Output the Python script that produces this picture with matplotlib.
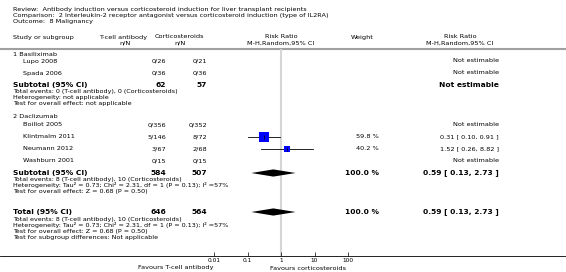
import numpy as np
import matplotlib
matplotlib.use("Agg")
import matplotlib.pyplot as plt
from matplotlib.patches import Polygon

# ---------------------------------------------------------------------------
# Data
# ---------------------------------------------------------------------------
title_lines = [
    "Review:  Antibody induction versus corticosteroid induction for liver transplant recipients",
    "Comparison:  2 Interleukin-2 receptor antagonist versus corticosteroid induction (type of IL2RA)",
    "Outcome:  8 Malignancy",
]

group_names = ["1 Basiliximab", "2 Daclizumab"]
studies = ["Lupo 2008", "Spada 2006", "Boillot 2005", "Klintmalm 2011", "Neumann 2012", "Washburn 2001"]
tcell_nN = ["0/26", "0/36", "0/356", "5/146", "3/67", "0/15"]
cortico_nN = ["0/21", "0/36", "0/352", "8/72", "2/68", "0/15"]
rr = [np.nan, np.nan, np.nan, 0.31, 1.52, np.nan]
rr_lo = [np.nan, np.nan, np.nan, 0.10, 0.26, np.nan]
rr_hi = [np.nan, np.nan, np.nan, 0.91, 8.82, np.nan]
weight = [np.nan, np.nan, np.nan, 59.8, 40.2, np.nan]

sub_tcell = [62, 584]
sub_cortico = [57, 507]
sub_rr = [np.nan, 0.59]
sub_lo = [np.nan, 0.13]
sub_hi = [np.nan, 2.73]
sub_weight = [np.nan, 100.0]
sub_notes = [
    ["Total events: 0 (T-cell antibody), 0 (Corticosteroids)",
     "Heterogeneity: not applicable",
     "Test for overall effect: not applicable"],
    ["Total events: 8 (T-cell antibody), 10 (Corticosteroids)",
     "Heterogeneity: Tau\u00b2 = 0.73; Chi\u00b2 = 2.31, df = 1 (P = 0.13); I\u00b2 =57%",
     "Test for overall effect: Z = 0.68 (P = 0.50)"],
]

tot_tcell, tot_cortico = 646, 564
tot_rr, tot_lo, tot_hi = 0.59, 0.13, 2.73
tot_notes = [
    "Total events: 8 (T-cell antibody), 10 (Corticosteroids)",
    "Heterogeneity: Tau\u00b2 = 0.73; Chi\u00b2 = 2.31, df = 1 (P = 0.13); I\u00b2 =57%",
    "Test for overall effect: Z = 0.68 (P = 0.50)",
    "Test for subgroup differences: Not applicable",
]

xticks = [0.01, 0.1, 1, 10, 100]
xtick_labels = ["0.01", "0.1", "1", "10", "100"]

# ---------------------------------------------------------------------------
# Layout (pixel rows / columns)
# ---------------------------------------------------------------------------
W, H = 566, 272
group_y = [54, 117]
study_y = [61, 73, 125, 137, 149, 161]
sub_y = [85, 173]
tot_y = 212
note_dy = 6
header_line_y = 49
axis_y = 256
x_one, decade = 281, 33.5

FS = 4.65
FS_N = 4.6
FS_B = 5.4
col_name, col_study = 13, 23
col_tcell, col_cort = 166, 207
col_weight, col_rr = 379, 499

fig = plt.figure(figsize=(W / 100, H / 100), dpi=100)
ax = fig.add_axes([0, 0, 1, 1])
ax.set_xlim(0, W)
ax.set_ylim(H, 0)
ax.axis("off")

# forest axes: full width, log x, pixel rows on y
fax = fig.add_axes([0, 1 - axis_y / H, 1, (axis_y - header_line_y) / H])
fax.set_xscale("log")
fax.set_xlim(10 ** (-x_one / decade), 10 ** ((W - x_one) / decade))
fax.set_ylim(axis_y, header_line_y)
fax.patch.set_alpha(0)
for s in ["left", "right", "top"]:
    fax.spines[s].set_visible(False)
fax.spines["bottom"].set_linewidth(0.6)
fax.set_yticks([])
fax.set_xticks(xticks)
fax.set_xticklabels(xtick_labels, fontsize=4.2)
fax.minorticks_off()
fax.tick_params(axis="x", direction="in", length=3, width=0.5, pad=1.5)
fax.axvline(1, color="#d6d6d6", lw=1.5, zorder=0)

# title
for i, line in enumerate(title_lines):
    ax.text(col_name, 9 + i * 6, line, fontsize=FS, va="center", ha="left")

# header
hdr_y1, hdr_y2 = 37, 43
ax.text(col_name, hdr_y1, "Study or subgroup", fontsize=FS, va="center")
ax.text(123, hdr_y1, "T-cell antibody", fontsize=FS, va="center", ha="center")
ax.text(125, hdr_y2, "n/N", fontsize=FS, va="center", ha="center")
ax.text(179, hdr_y1, "Corticosteroids", fontsize=FS, va="center", ha="center")
ax.text(180, hdr_y2, "n/N", fontsize=FS, va="center", ha="center")
ax.text(x_one, hdr_y1, "Risk Ratio", fontsize=FS, va="center", ha="center")
ax.text(x_one, hdr_y2, "M-H,Random,95% CI", fontsize=FS, va="center", ha="center")
ax.text(362, hdr_y1, "Weight", fontsize=FS, va="center", ha="center")
ax.text(460, hdr_y1, "Risk Ratio", fontsize=FS, va="center", ha="center")
ax.text(460, hdr_y2, "M-H,Random,95% CI", fontsize=FS, va="center", ha="center")
ax.axhline(header_line_y, color="#a0a0a0", lw=1.5)


def diamond(y, est, lo, hi, h=3.6):
    pts = [(lo, y), (est, y - h), (hi, y), (est, y + h)]
    fax.add_patch(Polygon(pts, closed=True, color="black", lw=0))


# groups and studies
for g, name in enumerate(group_names):
    ax.text(col_name, group_y[g], name, fontsize=FS, va="center")

for i, s in enumerate(studies):
    y = study_y[i]
    ax.text(col_study, y, s, fontsize=FS, va="center")
    ax.text(col_tcell, y, tcell_nN[i], fontsize=FS, va="center", ha="right")
    ax.text(col_cort, y, cortico_nN[i], fontsize=FS, va="center", ha="right")
    if np.isnan(rr[i]):
        ax.text(col_rr, y, "Not estimable", fontsize=FS, va="center", ha="right")
    else:
        fax.plot([rr_lo[i], rr_hi[i]], [y, y], color="black", lw=0.6)
        fax.plot([rr[i]], [y], marker="s", color="#0000ff", ms=weight[i] * 0.12, mew=0)
        fax.plot([rr[i]], [y], marker="|", color="black", ms=3, mew=0.5)
        ax.text(col_weight, y, f"{weight[i]:.1f} %", fontsize=FS, va="center", ha="right")
        ax.text(col_rr, y, f"{rr[i]:.2f} [ {rr_lo[i]:.2f}, {rr_hi[i]:.2f} ]",
                fontsize=FS, va="center", ha="right")

# subtotals
for g in range(len(group_names)):
    y = sub_y[g]
    ax.text(col_name, y, "Subtotal (95% CI)", fontsize=FS_B, va="center", weight="bold")
    ax.text(col_tcell, y, str(sub_tcell[g]), fontsize=FS_B, va="center", ha="right", weight="bold")
    ax.text(col_cort, y, str(sub_cortico[g]), fontsize=FS_B, va="center", ha="right", weight="bold")
    if np.isnan(sub_rr[g]):
        ax.text(col_rr, y, "Not estimable", fontsize=FS_B, va="center", ha="right", weight="bold")
    else:
        diamond(y, sub_rr[g], sub_lo[g], sub_hi[g])
        ax.text(col_weight, y, f"{sub_weight[g]:.1f} %", fontsize=FS_B, va="center",
                ha="right", weight="bold")
        ax.text(col_rr, y, f"{sub_rr[g]:.2f} [ {sub_lo[g]:.2f}, {sub_hi[g]:.2f} ]",
                fontsize=FS_B, va="center", ha="right", weight="bold")
    for k, note in enumerate(sub_notes[g]):
        ax.text(col_name, y + note_dy * (k + 1), note, fontsize=FS_N, va="center")

# total
ax.text(col_name, tot_y, "Total (95% CI)", fontsize=FS_B, va="center", weight="bold")
ax.text(col_tcell, tot_y, str(tot_tcell), fontsize=FS_B, va="center", ha="right", weight="bold")
ax.text(col_cort, tot_y, str(tot_cortico), fontsize=FS_B, va="center", ha="right", weight="bold")
diamond(tot_y, tot_rr, tot_lo, tot_hi)
ax.text(col_weight, tot_y, "100.0 %", fontsize=FS_B, va="center", ha="right", weight="bold")
ax.text(col_rr, tot_y, f"{tot_rr:.2f} [ {tot_lo:.2f}, {tot_hi:.2f} ]",
        fontsize=FS_B, va="center", ha="right", weight="bold")
for k, note in enumerate(tot_notes):
    ax.text(col_name, tot_y + note_dy * (k + 1) + 1, note, fontsize=FS_N, va="center")

# favours labels
ax.text(213, 268, "Favours T-cell antibody", fontsize=FS, va="center", ha="right")
ax.text(270, 268, "Favours corticosteroids", fontsize=FS, va="center", ha="left")

fig.savefig("out.png", dpi=100)
